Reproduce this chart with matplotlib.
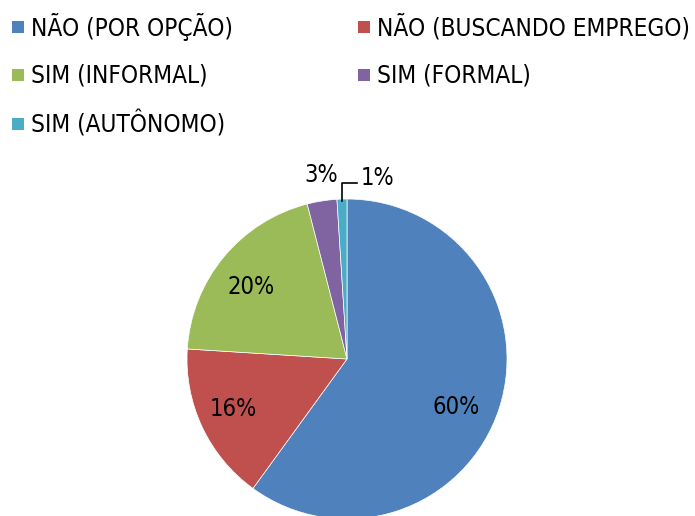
import matplotlib
matplotlib.use("Agg")
import matplotlib.pyplot as plt
from matplotlib.patches import Rectangle

categories = ["NÃO (POR OPÇÃO)", "NÃO (BUSCANDO EMPREGO)", "SIM (INFORMAL)",
              "SIM (FORMAL)", "SIM (AUTÔNOMO)"]
values = [60, 16, 20, 3, 1]
labels = ["60%", "16%", "20%", "3%", "1%"]
colors = ["#4F81BD", "#C0504D", "#9BBB59", "#8064A2", "#4BACC6"]

plt.rcParams['font.family'] = ['DejaVu Sans']

W, H = 695, 516
fig = plt.figure(figsize=(W / 100, H / 100), dpi=100)

cx, cy, r = 347, 359, 160
ax = fig.add_axes([(cx - r) / W, (H - cy - r) / H, 2 * r / W, 2 * r / H])
wedges, _ = ax.pie(values, colors=colors, startangle=90, counterclock=False,
                   radius=1, wedgeprops=dict(edgecolor="white", linewidth=0.5))
ax.set_xlim(-1, 1)
ax.set_ylim(-1, 1)
ax.set_aspect("equal")
ax.axis("off")

label_pos = [(0.68, -0.30), (-0.71, -0.31), (-0.60, 0.45), (-0.16, 1.15), (0.19, 1.13)]
for lab, (x, y) in zip(labels, label_pos):
    ax.text(x, y, lab, ha="center", va="center", fontsize=17, fontstretch="condensed", color="black")
# leader line for 1%
ax.plot([-0.03, -0.03, 0.06], [0.99, 1.10, 1.10], color="black", lw=1.2, clip_on=False)

# legend
rows = [27, 75, 124]
cols = [(12, 31), (358, 377)]
for i, (name, c) in enumerate(zip(categories, colors)):
    row, col = divmod(i, 2)
    mx, tx = cols[col]
    y = rows[row]
    fig.patches.append(Rectangle((mx / W, (H - y - 6) / H), 12 / W, 12 / H,
                                 transform=fig.transFigure, facecolor=c, edgecolor="none"))
    fig.text(tx / W, (H - y) / H, name, ha="left", va="center", fontsize=17.5,
             fontstretch="condensed", color="black")

fig.savefig("out.png", dpi=100)
